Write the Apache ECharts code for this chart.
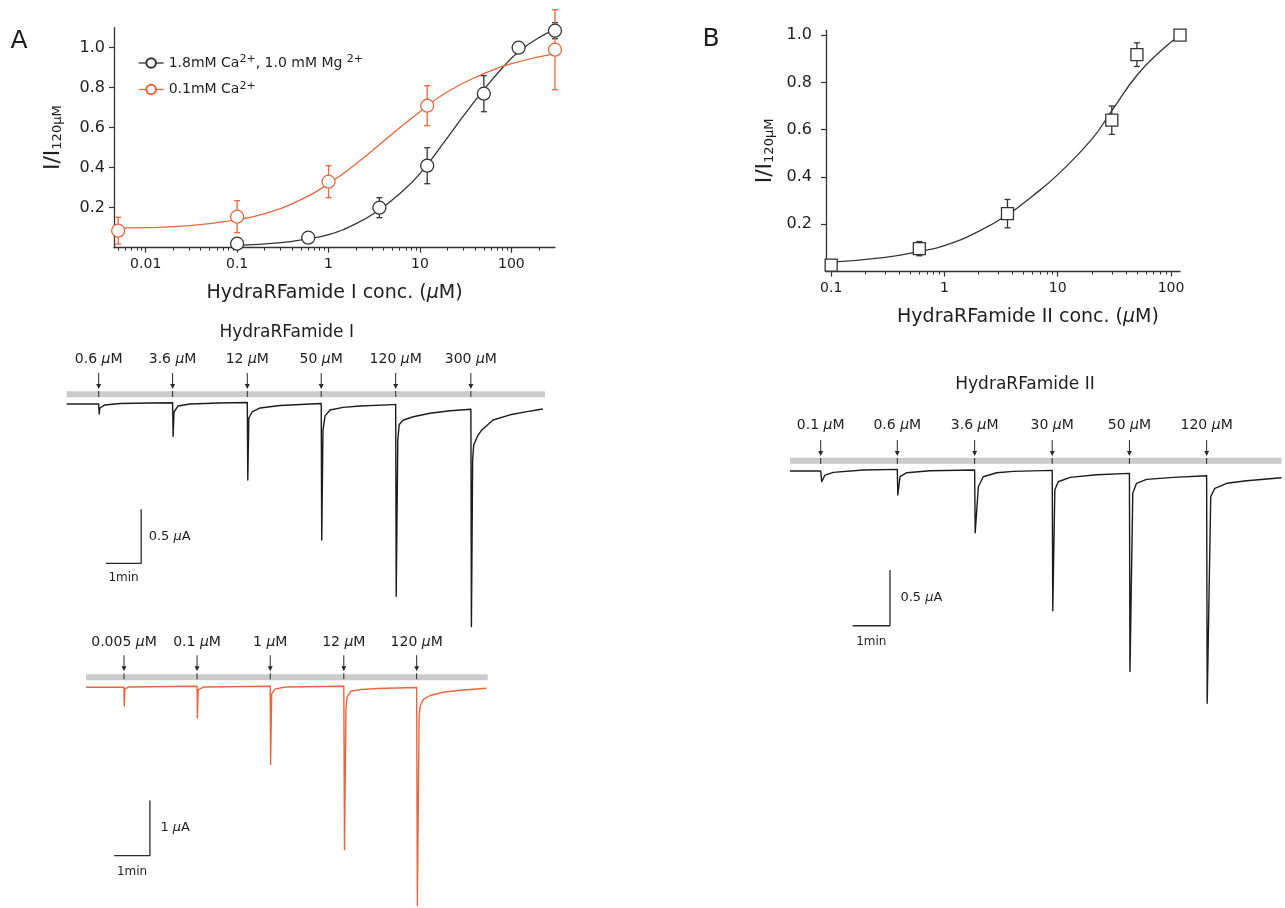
<!DOCTYPE html>
<html><head><meta charset="utf-8">
<script src="https://cdn.jsdelivr.net/npm/echarts@6/dist/echarts.min.js"></script>
<style>html,body{margin:0;padding:0;background:#fff}#c{width:1285px;height:908px}</style>
</head><body><div id="c"></div>
<script>
// ---------- Dose-response data (panel A) ----------
const concCa18 = [0.1, 0.6, 3.6, 12, 50, 120, 300];
const meanCa18 = [0.02, 0.05, 0.20, 0.41, 0.77, 1.00, 1.085];
const errCa18  = [0, 0, 0.05, 0.09, 0.09, 0, 0.04];
const concCa01 = [0.005, 0.1, 1, 12, 300];
const meanCa01 = [0.085, 0.155, 0.33, 0.71, 0.99];
const errCa01  = [0.067, 0.08, 0.08, 0.10, 0.20];
const fitCa18 = [[0.1,0.012],[0.3,0.025],[0.6,0.045],[1,0.065],[2,0.12],[3.6,0.19],[6,0.27],[10,0.37],[20,0.55],[30,0.66],[50,0.79],[80,0.90],[120,0.98],[200,1.05],[300,1.09]];
const fitCa01 = [[0.005,0.098],[0.01,0.10],[0.03,0.11],[0.1,0.14],[0.2,0.17],[0.5,0.24],[1,0.32],[2,0.42],[5,0.57],[10,0.68],[20,0.78],[50,0.87],[100,0.92],[300,0.97]];
// ---------- Dose-response data (panel B) ----------
const concB = [0.1, 0.6, 3.6, 30, 50, 120];
const meanB = [0.027, 0.097, 0.245, 0.64, 0.917, 1.0];
const errB  = [0, 0.03, 0.06, 0.06, 0.05, 0];
const fitB = [[0.1,0.04],[0.3,0.06],[0.6,0.085],[1,0.11],[2,0.17],[3.6,0.24],[6,0.32],[10,0.41],[20,0.56],[30,0.68],[50,0.83],[80,0.93],[120,1.0]];
// ---------- Tick labels ----------
const xTicksA = [0.01, 0.1, 1, 10, 100];
const xMinorA = [0.005,0.006,0.007,0.008,0.009,0.02,0.03,0.04,0.05,0.06,0.07,0.08,0.09,0.2,0.3,0.4,0.5,0.6,0.7,0.8,0.9,2,3,4,5,6,7,8,9,20,30,40,50,60,70,80,90,200];
const xTicksB = [0.1, 1, 10, 100];
const xMinorB = [0.2,0.3,0.4,0.5,0.6,0.7,0.8,0.9,2,3,4,5,6,7,8,9,20,30,40,50,60,70,80,90];
const yTicks = [0.2, 0.4, 0.6, 0.8, 1.0];
// ---------- Current traces: [time (min), current (uA)] ----------
const traceA1 = [[0,0],
 [0.906,0.0],[0.92,-0.093],[0.94,-0.037],[1.08,-0.009],[1.51,0.005],[2.36,0.009],[3.0,0.012],
 [3.015,-0.30],[3.04,-0.074],[3.15,-0.019],[3.49,0.0],[4.33,0.009],[5.116,0.014],
 [5.13,-0.704],[5.16,-0.13],[5.25,-0.074],[5.48,-0.037],[6.04,-0.014],[7.21,0.005],
 [7.225,-1.26],[7.26,-0.24],[7.32,-0.11],[7.46,-0.056],[7.83,-0.031],[8.31,-0.019],[9.24,-0.006],[9.32,-0.005],
 [9.335,-1.78],[9.38,-0.33],[9.42,-0.19],[9.54,-0.148],[9.82,-0.118],[10.29,-0.086],[10.86,-0.062],[11.45,-0.049],
 [11.465,-2.06],[11.5,-0.52],[11.53,-0.38],[11.65,-0.29],[11.76,-0.24],[12.08,-0.148],[12.56,-0.10],[13.04,-0.071],[13.49,-0.046]];
const stimA1 = [0.906, 3.0, 5.116, 7.21, 9.32, 11.45];
const stimA1Labels = ['0.6', '3.6', '12', '50', '120', '300'];
const traceA2 = [[0,0],
 [1.064,0.0],[1.072,-0.34],[1.09,-0.03],[1.2,0.005],[3.11,0.018],
 [3.12,-0.56],[3.14,-0.05],[3.3,0.005],[5.16,0.018],
 [5.17,-1.40],[5.2,-0.12],[5.3,-0.03],[5.6,0.005],[7.22,0.018],
 [7.24,-2.94],[7.28,-0.40],[7.31,-0.185],[7.42,-0.072],[7.70,-0.04],[8.17,-0.023],[9.26,-0.005],
 [9.28,-3.95],[9.33,-0.50],[9.36,-0.34],[9.45,-0.22],[9.64,-0.15],[10.0,-0.09],[10.48,-0.054],[11.22,-0.018]];
const stimA2 = [1.064, 3.11, 5.16, 7.22, 9.26];
const stimA2Labels = ['0.005', '0.1', '1', '12', '120'];
const traceB = [[0,0],
 [0.823,0],[0.85,-0.096],[0.94,-0.036],[1.16,-0.012],[1.96,0.009],[2.877,0.015],
 [2.89,-0.215],[2.95,-0.051],[3.13,-0.015],[3.75,0.003],[4.95,0.009],
 [4.965,-0.554],[5.05,-0.141],[5.18,-0.051],[5.54,-0.015],[5.99,-0.003],[7.03,0.006],
 [7.045,-1.254],[7.10,-0.17],[7.19,-0.096],[7.51,-0.057],[8.22,-0.033],[9.10,-0.021],
 [9.115,-1.80],[9.19,-0.20],[9.29,-0.11],[9.56,-0.075],[10.28,-0.057],[11.17,-0.042],
 [11.185,-2.085],[11.28,-0.23],[11.39,-0.155],[11.71,-0.11],[12.24,-0.087],[13.18,-0.06]];
const stimB = [0.823, 2.877, 4.95, 7.03, 9.10, 11.17];
const stimBLabels = ['0.1', '0.6', '3.6', '30', '50', '120'];

// ---------- Styling ----------
const FONT = 'DejaVu Sans';
const TXT = '#1e1e1e';
const DARK = '#333333';
const ORANGE = '#e8663d';
const ARROW = 'path://M2,0 L3,0 L3,11 L5,11 L2.5,16 L0,11 L2,11 Z M2,18 L3,18 L3,24 L2,24 Z';

function errRender(color) {
  return function (params, api) {
    const x = api.value(0), lo = api.value(1), hi = api.value(2);
    const p1 = api.coord([x, hi]), p2 = api.coord([x, lo]);
    const w = 3, st = {stroke: color, lineWidth: 1.3};
    return {type: 'group', children: [
      {type: 'line', shape: {x1: p1[0], y1: p1[1], x2: p2[0], y2: p2[1]}, style: st},
      {type: 'line', shape: {x1: p1[0]-w, y1: p1[1], x2: p1[0]+w, y2: p1[1]}, style: st},
      {type: 'line', shape: {x1: p2[0]-w, y1: p2[1], x2: p2[0]+w, y2: p2[1]}, style: st}
    ]};
  };
}
function errData(c, m, e) {
  const out = [];
  c.forEach((x, i) => { if (e[i] > 0) out.push([x, m[i]-e[i], m[i]+e[i]]); });
  return out;
}
function doseXAxes(grid, min, max, ticks, minors, name, namePad) {
  return [
    {gridIndex: grid, type: 'log', logBase: 10, min, max, position: 'bottom',
     axisLine: {onZero: false, lineStyle: {color: DARK, width: 1.3}},
     axisTick: {customValues: ticks, length: 5, lineStyle: {color: DARK, width: 1.2}},
     axisLabel: {customValues: ticks, margin: 10, fontSize: 14, fontFamily: FONT, color: TXT, formatter: v => String(+(+v).toPrecision(3))},
     splitLine: {show: false}, minorTick: {show: false},
     name, nameLocation: 'middle', nameGap: 36,
     nameTextStyle: {fontSize: 19, fontFamily: FONT, color: TXT, padding: namePad,
                     rich: {i: {fontSize: 19, fontFamily: FONT, fontStyle: 'italic', color: TXT}}}},
    {gridIndex: grid, type: 'log', logBase: 10, min, max, position: 'bottom',
     axisLine: {show: false, onZero: false},
     axisTick: {customValues: minors, length: 3, lineStyle: {color: DARK, width: 1}},
     axisLabel: {show: false}, splitLine: {show: false}}
  ];
}
function doseYAxis(grid, max, margin, gap) {
  return {gridIndex: grid, type: 'value', min: 0, max,
    axisLine: {show: true, onZero: false, lineStyle: {color: DARK, width: 1.3}},
    axisTick: {show: true, customValues: yTicks, length: 5, lineStyle: {color: DARK, width: 1.2}},
    axisLabel: {customValues: yTicks, margin, fontSize: 16, fontFamily: FONT, color: TXT, formatter: v => (+v).toFixed(1)},
    splitLine: {show: false},
    name: '{b|I/I}{s|120μM}', nameLocation: 'middle', nameGap: gap, nameRotate: 90,
    nameTextStyle: {rich: {
      b: {fontSize: 22, fontFamily: FONT, color: TXT, lineHeight: 22, verticalAlign: 'top'},
      s: {fontSize: 13, fontFamily: FONT, color: TXT, lineHeight: 13, verticalAlign: 'bottom', padding: [14, 0, 0, 0]}
    }}};
}
function pts(c, m) { return c.map((x, i) => [x, m[i]]); }

function tracePanel(ax, trace, color, stim, labels, lv, bar) {
  const lab = {fontSize: 14, fontFamily: FONT, color: TXT, opacity: 1, rich: {i: {fontSize: 14, fontFamily: FONT, fontStyle: 'italic', color: TXT}}};
  const lab2 = {fontSize: 13, fontFamily: FONT, color: TXT, opacity: 1, rich: {i: {fontSize: 13, fontFamily: FONT, fontStyle: 'italic', color: TXT}}};
  const base = {xAxisIndex: ax, yAxisIndex: ax, animation: false, silent: true};
  const hid = {color: 'rgba(0,0,0,0)', opacity: 1};
  return [
    Object.assign({type: 'line', data: [[0, lv.bar], [lv.tEnd, lv.bar]], symbol: 'none', lineStyle: {color: '#cbcbcb', width: 6}, z: 1}, base),
    Object.assign({type: 'line', data: trace, symbol: 'none', clip: false, lineStyle: {color, width: 1.4, join: 'round'}, z: 3}, base),
    Object.assign({type: 'scatter', data: stim.map(t => [t, lv.arrow]), symbol: ARROW, symbolSize: [5, 24], itemStyle: {color: '#2a2a2a', opacity: 1}, z: 4}, base),
    Object.assign({type: 'scatter', data: stim.map(t => [t, lv.label]), symbolSize: 1, itemStyle: hid,
      label: Object.assign({show: true, position: 'inside', formatter: p => labels[p.dataIndex] + ' {i|μ}M'}, lab), z: 4}, base),
    Object.assign({type: 'line', data: [[bar.t0, bar.I0], [bar.t0 + bar.dt, bar.I0], [bar.t0 + bar.dt, bar.I0 + bar.dI]], symbol: 'none', clip: false,
      lineStyle: {color: '#2a2a2a', width: 1.3}, z: 3}, base),
    Object.assign({type: 'scatter', data: [[bar.t0 + bar.dt, bar.I0 + bar.dI / 2]], symbolSize: 1, itemStyle: hid,
      label: Object.assign({show: true, position: 'right', distance: bar.d1, formatter: bar.txt}, lab2)}, base),
    Object.assign({type: 'scatter', data: [[bar.t0 + bar.dt / 2, bar.I0]], symbolSize: 1, itemStyle: hid,
      label: {show: true, position: 'bottom', distance: bar.d2, formatter: '1min', fontSize: 12, fontFamily: FONT, color: TXT, opacity: 1}}, base)
  ];
}

const chart = echarts.init(document.getElementById('c'), null, {renderer: 'canvas'});
const option = {
  animation: false,
  backgroundColor: '#ffffff',
  textStyle: {fontFamily: FONT},
  grid: [
    {left: 114, top: 27.7, width: 441, height: 220},
    {left: 826, top: 30.3, width: 354, height: 241.3},
    {left: 66.7, top: 339.2, width: 478.3, height: 302.4},
    {left: 86, top: 621, width: 401.7, height: 289.1},
    {left: 790, top: 404.2, width: 491.6, height: 311.9}
  ],
  xAxis: [].concat(
    doseXAxes(0, 0.0045, 300, xTicksA, xMinorA, 'HydraRFamide I conc. ({i|μ}M)', [0, 0, 0, 0]),
    doseXAxes(1, 0.09, 120, xTicksB, xMinorB, 'HydraRFamide II conc. ({i|μ}M)', [0, 0, 0, 50]),
    [
      {gridIndex: 2, type: 'value', min: 0, max: 13.55, show: false},
      {gridIndex: 3, type: 'value', min: 0, max: 11.25, show: false},
      {gridIndex: 4, type: 'value', min: 0, max: 13.18, show: false}
    ]),
  yAxis: [
    doseYAxis(0, 1.1, 9, 50),
    doseYAxis(1, 1.02, 14, 50),
    {gridIndex: 2, type: 'value', min: -2.2, max: 0.6, show: false},
    {gridIndex: 3, type: 'value', min: -4.0, max: 1.2, show: false},
    {gridIndex: 4, type: 'value', min: -2.2, max: 0.6, show: false}
  ],
  legend: {
    data: ['ca18', 'ca01'], orient: 'vertical', left: 133, top: 49, itemWidth: 25, itemHeight: 12, itemGap: 8.5,
    selectedMode: false,
    lineStyle: {opacity: 1, width: 1.3},
    formatter: n => n === 'ca18' ? '1.8mM Ca{s|2+}, 1.0 mM Mg {s|2+}' : '0.1mM Ca{s|2+}',
    textStyle: {fontSize: 14, fontFamily: FONT, color: TXT, lineHeight: 18,
      rich: {s: {fontSize: 11, fontFamily: FONT, color: TXT, verticalAlign: 'top', lineHeight: 18}}}
  },
  graphic: [
    {type: 'text', x: 19, y: 41, style: {text: 'A', font: '25px DejaVu Sans', fill: TXT, textAlign: 'center', textVerticalAlign: 'middle'}},
    {type: 'text', x: 711, y: 39, style: {text: 'B', font: '25px DejaVu Sans', fill: TXT, textAlign: 'center', textVerticalAlign: 'middle'}},
    {type: 'text', x: 286.7, y: 332.7, style: {text: 'HydraRFamide I', font: '17px DejaVu Sans', fill: TXT, textAlign: 'center', textVerticalAlign: 'middle'}},
    {type: 'text', x: 1025, y: 385, style: {text: 'HydraRFamide II', font: '17px DejaVu Sans', fill: TXT, textAlign: 'center', textVerticalAlign: 'middle'}}
  ],
  series: [].concat(
    [
      {type: 'line', name: 'fit18', xAxisIndex: 0, yAxisIndex: 0, data: fitCa18, smooth: true, symbol: 'none', lineStyle: {color: DARK, width: 1.3}, z: 2},
      {type: 'line', name: 'fit01', xAxisIndex: 0, yAxisIndex: 0, data: fitCa01, smooth: true, symbol: 'none', lineStyle: {color: ORANGE, width: 1.3}, z: 2},
      {type: 'custom', name: 'err18', xAxisIndex: 0, yAxisIndex: 0, data: errData(concCa18, meanCa18, errCa18), renderItem: errRender(DARK), encode: {x: 0, y: [1, 2]}, clip: false, z: 3},
      {type: 'custom', name: 'err01', xAxisIndex: 0, yAxisIndex: 0, data: errData(concCa01, meanCa01, errCa01), renderItem: errRender(ORANGE), encode: {x: 0, y: [1, 2]}, clip: false, z: 3},
      {type: 'line', name: 'ca18', xAxisIndex: 0, yAxisIndex: 0, data: pts(concCa18, meanCa18), symbol: 'circle', symbolSize: 13, showAllSymbol: true,
       lineStyle: {color: DARK, width: 1.3, opacity: 0}, itemStyle: {color: '#ffffff', borderColor: DARK, borderWidth: 1.3}, z: 5},
      {type: 'line', name: 'ca01', xAxisIndex: 0, yAxisIndex: 0, data: pts(concCa01, meanCa01), symbol: 'circle', symbolSize: 13, showAllSymbol: true,
       lineStyle: {color: ORANGE, width: 1.3, opacity: 0}, itemStyle: {color: '#ffffff', borderColor: ORANGE, borderWidth: 1.3}, z: 5},
      {type: 'line', name: 'fitB', xAxisIndex: 2, yAxisIndex: 1, data: fitB, smooth: true, symbol: 'none', lineStyle: {color: DARK, width: 1.3}, z: 2},
      {type: 'custom', name: 'errB', xAxisIndex: 2, yAxisIndex: 1, data: errData(concB, meanB, errB), renderItem: errRender(DARK), encode: {x: 0, y: [1, 2]}, clip: false, z: 3},
      {type: 'scatter', name: 'ptsB', xAxisIndex: 2, yAxisIndex: 1, data: pts(concB, meanB), symbol: 'rect', symbolSize: 12,
       itemStyle: {color: '#ffffff', borderColor: DARK, borderWidth: 1.3, opacity: 1}, z: 5}
    ],
    tracePanel(4, traceA1, '#1c1c1c', stimA1, stimA1Labels, {bar: 0.09, arrow: 0.176, label: 0.41, tEnd: 13.55},
      {t0: 1.11, I0: -1.475, dt: 1, dI: 0.5, txt: '0.5 {i|μ}A', d1: 7, d2: 8}),
    tracePanel(5, traceA2, ORANGE, stimA2, stimA2Labels, {bar: 0.18, arrow: 0.364, label: 0.81, tEnd: 11.25},
      {t0: 0.79, I0: -3.05, dt: 1, dI: 1, txt: '1 {i|μ}A', d1: 10, d2: 10}),
    tracePanel(6, traceB, '#1c1c1c', stimB, stimBLabels, {bar: 0.092, arrow: 0.17, label: 0.413, tEnd: 13.18},
      {t0: 1.68, I0: -1.389, dt: 1, dI: 0.5, txt: '0.5 {i|μ}A', d1: 10, d2: 10})
  )
};
// trace axes indices: xAxis 4,5,6 ; yAxis 2,3,4
option.series.forEach(s => {
  if (s.xAxisIndex >= 4) { s.yAxisIndex = s.xAxisIndex - 2; }
});
chart.setOption(option);
</script>
</body></html>
